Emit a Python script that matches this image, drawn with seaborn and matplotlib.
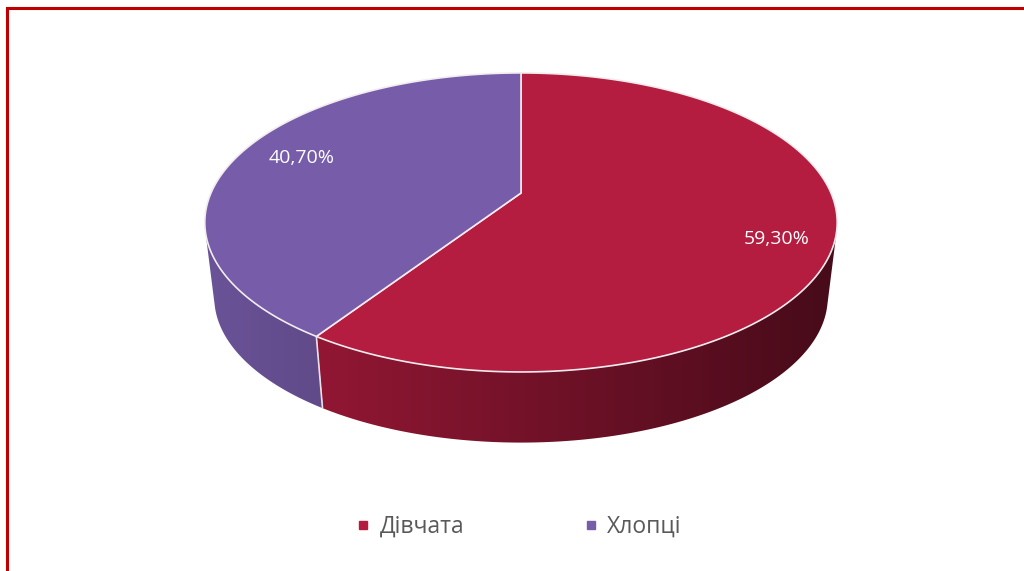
import numpy as np
import matplotlib
matplotlib.use("Agg")
import matplotlib.pyplot as plt
import seaborn as sns
from matplotlib.patches import Polygon, Rectangle
from matplotlib.lines import Line2D

# data
categories = ['Дівчата', 'Хлопці']
shares = [59.3, 40.7]
colors = ['#b41c40', '#775ca9']

sns.set_theme(style="white")
plt.rcParams['font.family'] = ['Open Sans', 'DejaVu Sans']

# 3d pie geometry (pixel space of the figure)
cx, cy = 521, 193
A, B, p = 310, 143.7, 0.197
H, s = 76, 0.97
x_left, x_right = 205, 840


def proj(theta, r=1.0, bottom=False):
    t = np.radians(theta)
    u, v = r * np.cos(t), r * np.sin(t)
    d = 1 + p * v
    if bottom:
        return cx + A * s * u / d, cy + H - B * s * v / d
    return cx + A * u / d, cy - B * v / d


def shade(color, x):
    rgb = np.array(matplotlib.colors.to_rgb(color))
    f = 0.9 - 0.51 * (x - x_left) / (x_right - x_left)
    return np.clip(rgb[None, :] * f[:, None], 0, 1)


fig = plt.figure(figsize=(10.24, 5.71), dpi=100)
ax = fig.add_axes([0, 0, 1, 1])
ax.set_xlim(0, 1024)
ax.set_ylim(571, 0)
ax.axis('off')

# slice angles, starting at 12 o'clock and going clockwise
angles = [90]
for v in shares:
    angles.append(angles[-1] - 360 * v / sum(shares))

# visible part of the side wall
grid = np.linspace(-270, 90, 3601)
tx, ty = proj(grid)
bx, by = proj(grid, bottom=True)
dtx, dty = np.gradient(tx), np.gradient(ty)
visible = (dtx * (by - ty) - dty * (bx - tx)) > 0

for i, c in enumerate(colors):
    a0, a1 = angles[i + 1], angles[i]
    m = (grid >= min(a0, a1)) & (grid <= max(a0, a1)) & visible
    if m.sum() < 2:
        continue
    th = grid[m]
    xs_t, ys_t = proj(th)
    xs_b, ys_b = proj(th, bottom=True)
    pts = np.column_stack([np.r_[xs_t, xs_b[::-1]], np.r_[ys_t, ys_b[::-1]]])
    side = Polygon(pts, closed=True, facecolor='none', edgecolor='none')
    ax.add_patch(side)
    xx = np.linspace(x_left, x_right, 400)
    img = shade(c, xx)[None, :, :]
    im = ax.imshow(img, extent=(x_left, x_right, 460, 60), aspect='auto',
                   interpolation='bilinear', zorder=1)
    im.set_clip_path(side)

# edge between the two slices on the side wall
xd, yd = proj(angles[1])
xb, yb = proj(angles[1], bottom=True)
ax.plot([xd, xb], [yd, yb], color='#e8e0e4', lw=1.2, zorder=2)

# top faces
for i, c in enumerate(colors):
    th = np.linspace(angles[i], angles[i + 1], 300)
    xs, ys = proj(th)
    pts = np.column_stack([np.r_[cx, xs], np.r_[cy, ys]])
    ax.add_patch(Polygon(pts, closed=True, facecolor=c, edgecolor='#f2ecee',
                         lw=1.2, zorder=3))

# value labels
label_r = [0.82, 0.77]
label_dy = [10, -4]
for i, v in enumerate(shares):
    mid = (angles[i] + angles[i + 1]) / 2
    lx, ly = proj(mid, r=label_r[i])
    ax.text(lx, ly + label_dy[i], f"{v:.2f}%".replace('.', ','), color='white',
            fontsize=14, ha='center', va='center', zorder=4)

# legend
handles = [Line2D([], [], marker='s', linestyle='none', markersize=5.5,
                  markerfacecolor=c, markeredgecolor=c) for c in colors]
fig.legend(handles, categories, loc='center', bbox_to_anchor=(0.507, 1 - 527 / 571),
           ncol=2, frameon=False, fontsize=16.5, handlelength=0.6, handletextpad=0.4,
           columnspacing=5.25, labelcolor='#595959')

# red chart frame
fig.patches.append(Rectangle((7 / 1024, -0.1), 1.1, 1.1 - 8 / 571, transform=fig.transFigure,
                             fill=False, edgecolor='#c00000', lw=2.2, figure=fig))

fig.savefig('out.png', dpi=100, facecolor='white')
